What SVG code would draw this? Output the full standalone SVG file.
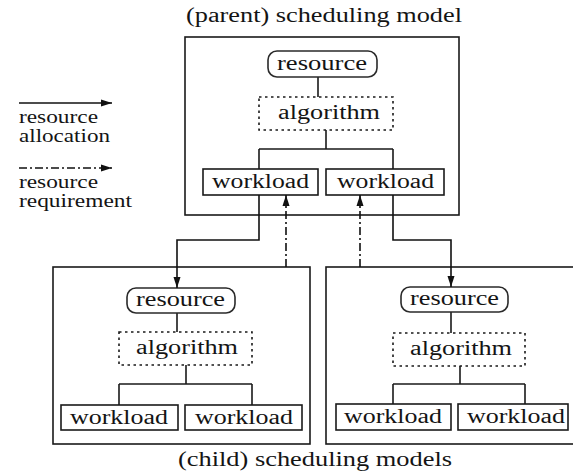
<svg xmlns="http://www.w3.org/2000/svg" width="573" height="474" viewBox="0 0 573 474">
  <style>
    text { font-family: "Liberation Serif", "Times New Roman", serif; font-size: 20px; fill: #141414; }
    .key { font-size: 18px; }
    .frame { fill: none; stroke: #1a1a1a; stroke-width: 1.6; }
    .res { fill: #fff; stroke: #2a2a2a; stroke-width: 1.6; }
    .alg { fill: #fff; stroke: #1a1a1a; stroke-width: 1.6; stroke-dasharray: 2.5 3.5; }
    .wl { fill: #fff; stroke: #1a1a1a; stroke-width: 1.6; }
    .link { fill: none; stroke: #1a1a1a; stroke-width: 1.6; }
    .alloc { fill: none; stroke: #111; stroke-width: 1.6; marker-end: url(#head); }
    .req { fill: none; stroke: #111; stroke-width: 1.6; stroke-dasharray: 8 3 2 3; marker-end: url(#head); }
  </style>
  <defs>
    <marker id="head" markerUnits="userSpaceOnUse" markerWidth="12" markerHeight="8" refX="11" refY="4" orient="auto">
      <path d="M0,0.5 L11,4 L0,7.5 z" fill="#111"/>
    </marker>
  </defs>

  <!-- legend -->
  <g id="legend">
    <path class="alloc" d="M19,103 H112"/>
    <text class="key" x="19" y="123" textLength="79" lengthAdjust="spacingAndGlyphs">resource</text>
    <text class="key" x="19" y="142" textLength="91" lengthAdjust="spacingAndGlyphs">allocation</text>
    <path class="req" d="M19,168 H112"/>
    <text class="key" x="19" y="188" textLength="79" lengthAdjust="spacingAndGlyphs">resource</text>
    <text class="key" x="19" y="207" textLength="113" lengthAdjust="spacingAndGlyphs">requirement</text>
  </g>

  <!-- parent scheduling model -->
  <g id="parent">
    <text x="186" y="22" textLength="276" lengthAdjust="spacingAndGlyphs">(parent) scheduling model</text>
    <rect class="frame" x="185" y="37" width="274" height="178"/>
    <path class="link" d="M318,77 V97 M326,130 V149 M259,149 H393 M259,149 V169 M393,149 V169"/>
    <g id="parent-resource">
      <rect class="res" x="268" y="51" width="109" height="26" rx="9"/>
      <text x="277" y="70" textLength="90" lengthAdjust="spacingAndGlyphs">resource</text>
    </g>
    <g id="parent-algorithm">
      <rect class="alg" x="259" y="97" width="134" height="33"/>
      <text x="278" y="119" textLength="102" lengthAdjust="spacingAndGlyphs">algorithm</text>
    </g>
    <g id="parent-workload-1">
      <rect class="wl" x="203" y="169" width="115" height="26"/>
      <text x="212" y="188" textLength="97" lengthAdjust="spacingAndGlyphs">workload</text>
    </g>
    <g id="parent-workload-2">
      <rect class="wl" x="326" y="169" width="118" height="26"/>
      <text x="337" y="188" textLength="97" lengthAdjust="spacingAndGlyphs">workload</text>
    </g>
  </g>

  <!-- left child scheduling model -->
  <g id="child-left">
    <rect class="frame" x="53" y="267" width="257" height="177"/>
    <path class="link" d="M177,313 V332 M186,365 V384 M119,384 H252 M119,384 V405 M252,384 V405"/>
    <g id="left-resource">
      <rect class="res" x="127" y="288" width="108" height="25" rx="9"/>
      <text x="136" y="306" textLength="89" lengthAdjust="spacingAndGlyphs">resource</text>
    </g>
    <g id="left-algorithm">
      <rect class="alg" x="119" y="332" width="133" height="33"/>
      <text x="136" y="354" textLength="102" lengthAdjust="spacingAndGlyphs">algorithm</text>
    </g>
    <g id="left-workload-1">
      <rect class="wl" x="61" y="405" width="117" height="25"/>
      <text x="70" y="424" textLength="98" lengthAdjust="spacingAndGlyphs">workload</text>
    </g>
    <g id="left-workload-2">
      <rect class="wl" x="185" y="405" width="117" height="25"/>
      <text x="195" y="424" textLength="98" lengthAdjust="spacingAndGlyphs">workload</text>
    </g>
  </g>

  <!-- right child scheduling model -->
  <g id="child-right">
    <rect class="frame" x="326" y="267" width="260" height="177"/>
    <path class="link" d="M451,312 V333 M460,366 V384 M393,384 H525 M393,384 V404 M525,384 V404"/>
    <g id="right-resource">
      <rect class="res" x="401" y="287" width="107" height="25" rx="9"/>
      <text x="410" y="305" textLength="89" lengthAdjust="spacingAndGlyphs">resource</text>
    </g>
    <g id="right-algorithm">
      <rect class="alg" x="393" y="333" width="132" height="33"/>
      <text x="410" y="355" textLength="102" lengthAdjust="spacingAndGlyphs">algorithm</text>
    </g>
    <g id="right-workload-1">
      <rect class="wl" x="336" y="404" width="115" height="26"/>
      <text x="344" y="423" textLength="98" lengthAdjust="spacingAndGlyphs">workload</text>
    </g>
    <g id="right-workload-2">
      <rect class="wl" x="458" y="404" width="110" height="26"/>
      <text x="467" y="423" textLength="98" lengthAdjust="spacingAndGlyphs">workload</text>
    </g>
  </g>

  <text x="178" y="466" textLength="274" lengthAdjust="spacingAndGlyphs">(child) scheduling models</text>

  <!-- allocation and requirement connectors between models -->
  <g id="connectors">
    <path class="alloc" d="M259,195 V240 H177 V288"/>
    <path class="req" d="M286,267 V195"/>
    <path class="req" d="M360,267 V195"/>
    <path class="alloc" d="M393,195 V240 H451 V287"/>
  </g>
</svg>
